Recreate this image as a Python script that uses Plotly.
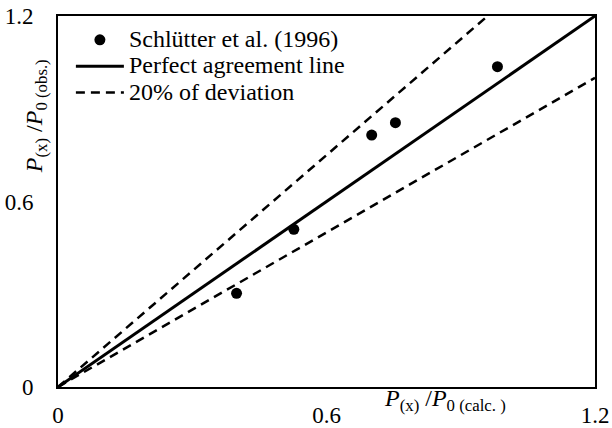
import plotly.graph_objects as go

# Data
calc = [0.399, 0.527, 0.701, 0.754, 0.982]   # P(x)/P0 (calc.)
obs = [0.303, 0.510, 0.815, 0.855, 1.036]    # P(x)/P0 (obs.)
line_x = [0.0, 1.2]
upper_x = [0.0, 0.96]
upper_factor = 1.25
lower_factor = 1 / 1.2
tick_vals = [0, 0.6, 1.2]
tick_text = ["0", "0.6", "1.2"]
legend_names = ["Schlütter et al. (1996)", "Perfect agreement line", "20% of deviation"]

FONT = "Liberation Serif"


def big(s):
    return '<span style="font-size:24px">' + s + '</span>'


fig = go.Figure()
fig.add_trace(go.Scatter(
    x=calc, y=obs, mode="markers", name=big(legend_names[0]),
    marker=dict(color="black", size=11, symbol="circle"),
))
fig.add_trace(go.Scatter(
    x=line_x, y=line_x, mode="lines", name=big(legend_names[1]),
    line=dict(color="black", width=3),
))
fig.add_trace(go.Scatter(
    x=upper_x, y=[v * upper_factor for v in upper_x], mode="lines",
    name=big(legend_names[2]),
    line=dict(color="black", width=2.5, dash="9px,6px"),
))
fig.add_trace(go.Scatter(
    x=line_x, y=[v * lower_factor for v in line_x], mode="lines",
    name=big(legend_names[2]), showlegend=False,
    line=dict(color="black", width=2.5, dash="9px,6px"),
))

axis_common = dict(
    range=[0, 1.2], tickvals=tick_vals, ticktext=tick_text,
    showgrid=False, zeroline=False, showline=True, mirror=True,
    linecolor="black", linewidth=2, ticks="", automargin=False,
    tickfont=dict(family=FONT, size=23, color="black"),
)

fig.update_layout(
    width=612, height=428,
    margin=dict(l=58, r=17, t=16, b=41),
    paper_bgcolor="white", plot_bgcolor="white",
    font=dict(family=FONT, color="black"),
    xaxis=dict(**axis_common, ticklabelstandoff=6),
    yaxis=dict(**axis_common, ticklabelstandoff=18),
    legend=dict(
        x=0.024, y=0.985, xanchor="left", yanchor="top",
        bgcolor="rgba(0,0,0,0)", borderwidth=0,
        font=dict(family=FONT, size=18, color="black"),
        tracegroupgap=0, itemwidth=48,
    ),
    showlegend=True,
    annotations=[
        dict(
            text="<i>P</i><sub>(x)</sub> /<i>P</i><sub>0 (calc. )</sub>",
            xref="paper", yref="paper", x=0.72, y=-0.035,
            xanchor="center", yanchor="middle", showarrow=False,
            font=dict(family=FONT, size=24, color="black"),
        ),
        dict(
            text="<i>P</i><sub>(x)</sub> /<i>P</i><sub>0 (obs.)</sub>",
            xref="paper", yref="paper", x=-0.041, y=0.73,
            xanchor="center", yanchor="middle", showarrow=False,
            textangle=-90,
            font=dict(family=FONT, size=24, color="black"),
        ),
    ],
)

fig.write_html("out.html")
